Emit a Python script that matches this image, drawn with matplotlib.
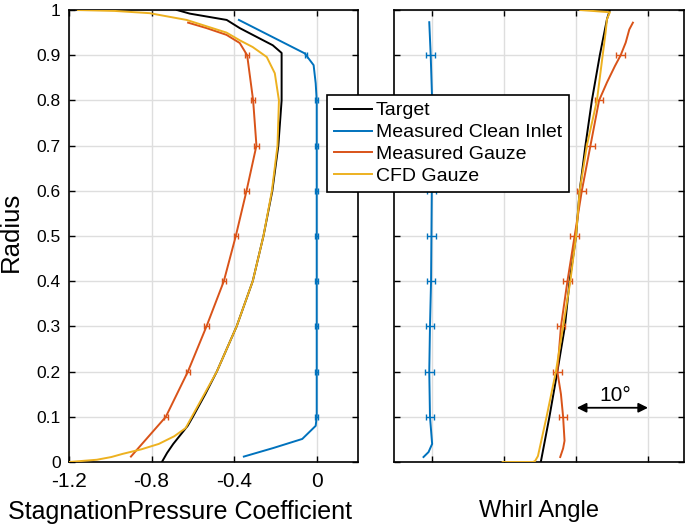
import numpy as np
import matplotlib
matplotlib.use("Agg")
import matplotlib.pyplot as plt
from matplotlib.lines import Line2D

plt.rcParams['font.family'] = ['Liberation Sans', 'DejaVu Sans']
plt.rcParams['axes.unicode_minus'] = False

# ---------------- data: stagnation pressure coefficient ----------------
r_target_cp = [0.0, 0.02, 0.04, 0.06, 0.08, 0.1, 0.15, 0.2, 0.3, 0.4, 0.5, 0.6, 0.7,
               0.8, 0.85, 0.88, 0.905, 0.922, 0.945, 0.96, 0.978, 0.992, 1.0]
cp_target = [-0.75, -0.725, -0.695, -0.66, -0.625, -0.6, -0.54, -0.484, -0.388, -0.31,
             -0.258, -0.215, -0.186, -0.17, -0.17, -0.17, -0.17, -0.213, -0.31, -0.373,
             -0.436, -0.615, -0.677]

r_cfd_cp = [0.0, 0.005, 0.011, 0.018, 0.028, 0.04, 0.057, 0.075, 0.1, 0.2, 0.3, 0.4,
            0.5, 0.6, 0.7, 0.8, 0.86, 0.896, 0.918, 0.933, 0.95, 0.962, 0.978, 0.993,
            0.998, 1.0]
cp_cfd = [-1.2, -1.065, -0.995, -0.94, -0.85, -0.765, -0.69, -0.635, -0.605, -0.484,
          -0.388, -0.31, -0.258, -0.217, -0.19, -0.183, -0.203, -0.242, -0.31, -0.373,
          -0.437, -0.52, -0.63, -0.81, -0.98, -1.156]

r_clean_cp = [0.012, 0.031, 0.051, 0.08, 0.1, 0.2, 0.3, 0.4, 0.5, 0.6, 0.7, 0.8,
              0.838, 0.878, 0.904, 0.978]
cp_clean = [-0.353, -0.21, -0.07, -0.005, 0.0, 0.0, 0.0, 0.0, 0.0, 0.0, 0.0, 0.0,
            -0.005, -0.015, -0.058, -0.377]

r_gauze_cp = [0.012, 0.1, 0.2, 0.3, 0.4, 0.5, 0.6, 0.7, 0.8, 0.9, 0.927, 0.945,
              0.96, 0.972]
cp_gauze = [-0.9, -0.731, -0.624, -0.534, -0.45, -0.392, -0.34, -0.292, -0.308,
            -0.337, -0.373, -0.437, -0.534, -0.623]

# measurement stations with error bars
r_meas = [0.1, 0.2, 0.3, 0.4, 0.5, 0.6, 0.7, 0.8, 0.9]
cp_clean_err = [0.006] * 9
cp_gauze_err = [0.011] * 9

# ---------------- data: whirl angle (deg) ----------------
r_target_wa = [0.0, 0.1, 0.2, 0.3, 0.4, 0.5, 0.6, 0.7, 0.8, 0.9, 0.98, 1.0]
wa_target = [15.1, 16.3, 17.4, 18.45, 19.1, 20.0, 20.5, 21.3, 22.2, 23.3, 24.3, 24.7]

r_cfd_wa = [0.0, 0.0, 0.002, 0.013, 0.1, 0.2, 0.29, 0.4, 0.5, 0.6, 0.7, 0.8, 0.9,
            0.95, 0.98, 0.995, 1.0]
wa_cfd = [9.8, 14.0, 14.3, 14.7, 15.9, 17.2, 18.1, 19.2, 20.0, 20.5, 21.5, 22.9,
          23.7, 24.1, 24.3, 24.7, 20.6]

r_clean_wa = [0.011, 0.022, 0.04, 0.1, 0.2, 0.3, 0.4, 0.5, 0.6, 0.7, 0.8, 0.9, 0.973]
wa_clean = [-1.2, -0.5, 0.0, -0.3, -0.4, -0.3, -0.15, -0.1, -0.05, 0.0, 0.0, -0.2, -0.4]

r_gauze_wa = [0.011, 0.03, 0.047, 0.1, 0.15, 0.2, 0.3, 0.4, 0.5, 0.6, 0.7, 0.8,
              0.84, 0.876, 0.9, 0.928, 0.957, 0.972]
wa_gauze = [17.8, 18.2, 18.4, 18.2, 17.9, 17.4, 17.9, 18.8, 19.8, 20.8, 22.0, 23.2,
            24.3, 25.4, 26.2, 26.9, 27.4, 27.9]

wa_clean_err = [0.6] * 9
wa_gauze_err = [0.6] * 9

labels = ['Target', 'Measured Clean Inlet', 'Measured Gauze', 'CFD Gauze']
colors = ['#000000', '#0072BD', '#D95319', '#EDB120']

# ---------------- figure ----------------
fig = plt.figure(figsize=(6.85, 5.24), dpi=100)
W, H = 685, 524
ax1 = fig.add_axes([69 / W, 1 - 462 / H, (358 - 69) / W, (462 - 10) / H])
ax2 = fig.add_axes([394 / W, 1 - 462 / H, (684 - 394) / W, (462 - 10) / H])

lw = 1.4
for ax in (ax1, ax2):
    ax.grid(True, color='#dedede', lw=1.0)
    ax.set_axisbelow(True)
    ax.set_ylim(0, 1)
    ax.set_yticks(np.arange(0, 1.01, 0.1))
    for s in ax.spines.values():
        s.set_linewidth(1.2)
    ax.tick_params(direction='in', length=4, width=1.0, top=True, right=True)

# left panel
ax1.plot(cp_target, r_target_cp, color=colors[0], lw=lw, zorder=3)
ax1.plot(cp_clean, r_clean_cp, color=colors[1], lw=lw, zorder=3)
ax1.plot(cp_gauze, r_gauze_cp, color=colors[2], lw=lw, zorder=3)
ax1.plot(cp_cfd, r_cfd_cp, color=colors[3], lw=lw, zorder=4)
ax1.errorbar(np.interp(r_meas, r_clean_cp, cp_clean), r_meas, xerr=cp_clean_err,
             fmt='none', ecolor=colors[1], elinewidth=1.0, capsize=2.5, zorder=3)
ax1.errorbar(np.interp(r_meas, r_gauze_cp, cp_gauze), r_meas, xerr=cp_gauze_err,
             fmt='none', ecolor=colors[2], elinewidth=1.0, capsize=2.5, zorder=3)
ax1.set_xlim(-1.2, 0.2)
ax1.set_xticks([-1.2, -0.8, -0.4, 0])
ax1.set_xticklabels(['-1.2', '-0.8', '-0.4', '0'])
ax1.set_yticklabels(['0'] + ['%.1f' % v for v in np.arange(0.1, 0.95, 0.1)] + ['1'])
ax1.tick_params(axis='x', labelsize=15, pad=7)
ax1.tick_params(axis='y', labelsize=12.5, pad=6)
ax1.set_xlabel('StagnationPressure Coefficient', fontsize=18)
ax1.xaxis.set_label_coords(0.384, -0.083)
ax1.set_ylabel('Radius', fontsize=18.5)
ax1.yaxis.set_label_coords(-0.16, 0.51)

# right panel
ax2.plot(wa_target, r_target_wa, color=colors[0], lw=lw, zorder=3)
ax2.plot(wa_clean, r_clean_wa, color=colors[1], lw=lw, zorder=3)
ax2.plot(wa_gauze, r_gauze_wa, color=colors[2], lw=lw, zorder=3)
ax2.plot(wa_cfd, r_cfd_wa, color=colors[3], lw=lw, zorder=4)
ax2.errorbar(np.interp(r_meas, r_clean_wa, wa_clean), r_meas, xerr=wa_clean_err,
             fmt='none', ecolor=colors[1], elinewidth=1.0, capsize=2.5, zorder=3)
ax2.errorbar(np.interp(r_meas, r_gauze_wa, wa_gauze), r_meas, xerr=wa_gauze_err,
             fmt='none', ecolor=colors[2], elinewidth=1.0, capsize=2.5, zorder=3)
ax2.set_xlim(-5.3, 35)
ax2.set_xticks([0, 10, 20, 30])
ax2.set_xticklabels([])
ax2.set_yticklabels([])
ax2.set_xlabel('Whirl Angle', fontsize=17)
ax2.xaxis.set_label_coords(0.5, -0.083)

ax2.annotate('', xy=(20.1, 0.12), xytext=(30, 0.12),
             arrowprops=dict(arrowstyle='<|-|>', color='k', lw=1.3,
                             mutation_scale=14, shrinkA=0, shrinkB=0))
ax2.text(25.4, 0.148, '10°', fontsize=15, ha='center', va='center')

handles = [Line2D([], [], color=c, lw=lw) for c in colors]
leg = fig.legend(handles, labels, loc='upper left',
                 bbox_to_anchor=(327 / W, 1 - 95 / H), bbox_transform=fig.transFigure,
                 fontsize=14, frameon=True, fancybox=False, framealpha=1,
                 edgecolor='black', borderaxespad=0, handlelength=1.95,
                 handletextpad=0.2, labelspacing=0.22, borderpad=0.35)
leg.get_frame().set_linewidth(1.2)

fig.savefig('out.png', dpi=100)
